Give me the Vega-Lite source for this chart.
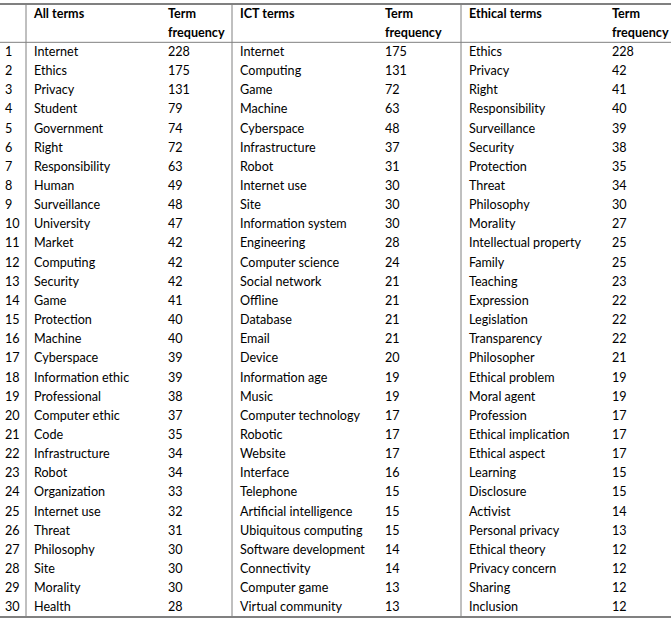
{
  "$schema": "https://vega.github.io/schema/vega-lite/v6.json",
  "width": 671,
  "height": 613,
  "autosize": "none",
  "padding": {"top": 4, "left": 0, "right": 0, "bottom": 4},
  "background": "white",
  "config": {"view": {"stroke": null}, "text": {"font": "Lato", "fontSize": 12.6, "color": "#000000"}},
  "datasets": {
    "cols": [
      {"key": "r", "c": 0}, {"key": "all", "c": 1}, {"key": "allf", "c": 2},
      {"key": "ict", "c": 3}, {"key": "ictf", "c": 4}, {"key": "eth", "c": 5}, {"key": "ethf", "c": 6}
    ],
    "header": [
      {"line": -1, "all": "All terms", "allf": "Term", "ict": "ICT terms", "ictf": "Term", "eth": "Ethical terms", "ethf": "Term"},
      {"line": 0, "allf": "frequency", "ictf": "frequency", "ethf": "frequency"}
    ],
    "body": [
      {"r": 1, "all": "Internet", "allf": 228, "ict": "Internet", "ictf": 175, "eth": "Ethics", "ethf": 228},
      {"r": 2, "all": "Ethics", "allf": 175, "ict": "Computing", "ictf": 131, "eth": "Privacy", "ethf": 42},
      {"r": 3, "all": "Privacy", "allf": 131, "ict": "Game", "ictf": 72, "eth": "Right", "ethf": 41},
      {"r": 4, "all": "Student", "allf": 79, "ict": "Machine", "ictf": 63, "eth": "Responsibility", "ethf": 40},
      {"r": 5, "all": "Government", "allf": 74, "ict": "Cyberspace", "ictf": 48, "eth": "Surveillance", "ethf": 39},
      {"r": 6, "all": "Right", "allf": 72, "ict": "Infrastructure", "ictf": 37, "eth": "Security", "ethf": 38},
      {"r": 7, "all": "Responsibility", "allf": 63, "ict": "Robot", "ictf": 31, "eth": "Protection", "ethf": 35},
      {"r": 8, "all": "Human", "allf": 49, "ict": "Internet use", "ictf": 30, "eth": "Threat", "ethf": 34},
      {"r": 9, "all": "Surveillance", "allf": 48, "ict": "Site", "ictf": 30, "eth": "Philosophy", "ethf": 30},
      {"r": 10, "all": "University", "allf": 47, "ict": "Information system", "ictf": 30, "eth": "Morality", "ethf": 27},
      {"r": 11, "all": "Market", "allf": 42, "ict": "Engineering", "ictf": 28, "eth": "Intellectual property", "ethf": 25},
      {"r": 12, "all": "Computing", "allf": 42, "ict": "Computer science", "ictf": 24, "eth": "Family", "ethf": 25},
      {"r": 13, "all": "Security", "allf": 42, "ict": "Social network", "ictf": 21, "eth": "Teaching", "ethf": 23},
      {"r": 14, "all": "Game", "allf": 41, "ict": "Offline", "ictf": 21, "eth": "Expression", "ethf": 22},
      {"r": 15, "all": "Protection", "allf": 40, "ict": "Database", "ictf": 21, "eth": "Legislation", "ethf": 22},
      {"r": 16, "all": "Machine", "allf": 40, "ict": "Email", "ictf": 21, "eth": "Transparency", "ethf": 22},
      {"r": 17, "all": "Cyberspace", "allf": 39, "ict": "Device", "ictf": 20, "eth": "Philosopher", "ethf": 21},
      {"r": 18, "all": "Information ethic", "allf": 39, "ict": "Information age", "ictf": 19, "eth": "Ethical problem", "ethf": 19},
      {"r": 19, "all": "Professional", "allf": 38, "ict": "Music", "ictf": 19, "eth": "Moral agent", "ethf": 19},
      {"r": 20, "all": "Computer ethic", "allf": 37, "ict": "Computer technology", "ictf": 17, "eth": "Profession", "ethf": 17},
      {"r": 21, "all": "Code", "allf": 35, "ict": "Robotic", "ictf": 17, "eth": "Ethical implication", "ethf": 17},
      {"r": 22, "all": "Infrastructure", "allf": 34, "ict": "Website", "ictf": 17, "eth": "Ethical aspect", "ethf": 17},
      {"r": 23, "all": "Robot", "allf": 34, "ict": "Interface", "ictf": 16, "eth": "Learning", "ethf": 15},
      {"r": 24, "all": "Organization", "allf": 33, "ict": "Telephone", "ictf": 15, "eth": "Disclosure", "ethf": 15},
      {"r": 25, "all": "Internet use", "allf": 32, "ict": "Artificial intelligence", "ictf": 15, "eth": "Activist", "ethf": 14},
      {"r": 26, "all": "Threat", "allf": 31, "ict": "Ubiquitous computing", "ictf": 15, "eth": "Personal privacy", "ethf": 13},
      {"r": 27, "all": "Philosophy", "allf": 30, "ict": "Software development", "ictf": 14, "eth": "Ethical theory", "ethf": 12},
      {"r": 28, "all": "Site", "allf": 30, "ict": "Connectivity", "ictf": 14, "eth": "Privacy concern", "ethf": 12},
      {"r": 29, "all": "Morality", "allf": 30, "ict": "Computer game", "ictf": 13, "eth": "Sharing", "ethf": 12},
      {"r": 30, "all": "Health", "allf": 28, "ict": "Virtual community", "ictf": 13, "eth": "Inclusion", "ethf": 12}
    ]
  },
  "layer": [
    {
      "data": {"values": [{"edge": -1.5}, {"edge": 30.5}]},
      "mark": {"type": "rule", "stroke": "#808080", "strokeWidth": 2},
      "encoding": {
        "y": {"field": "edge", "type": "quantitative", "axis": null,
              "scale": {"domain": [-1.5, 30.5], "reverse": true, "nice": false, "zero": false}}
      }
    },
    {
      "data": {"values": [{"edge": 0.5}]},
      "mark": {"type": "rule", "stroke": "#808080", "strokeWidth": 1},
      "encoding": {
        "y": {"field": "edge", "type": "quantitative", "axis": null}
      }
    },
    {
      "data": {"values": [{"b": 0.5}, {"b": 2.5}, {"b": 4.5}]},
      "mark": {"type": "rule", "stroke": "#808080", "strokeWidth": 1},
      "encoding": {
        "x": {"field": "b", "type": "quantitative", "axis": null,
              "scale": {"domain": [0, 0.5, 1, 2, 2.5, 3, 4, 4.5, 5, 6], "range": [5, 26, 34, 168, 232, 240, 385, 461, 469, 612], "nice": false, "zero": false}}
      }
    },
    {
      "data": {"name": "header"},
      "transform": [
        {"fold": ["all", "allf", "ict", "ictf", "eth", "ethf"], "as": ["key", "value"]},
        {"filter": "isValid(datum.value)"},
        {"lookup": "key", "from": {"data": {"name": "cols"}, "key": "key", "fields": ["c"]}}
      ],
      "mark": {"type": "text", "align": "left", "baseline": "middle", "fontWeight": "bold"},
      "encoding": {
        "x": {"field": "c", "type": "quantitative", "axis": null},
        "y": {"field": "line", "type": "quantitative", "axis": null},
        "text": {"field": "value"}
      }
    },
    {
      "data": {"name": "body"},
      "transform": [
        {"fold": ["r", "all", "allf", "ict", "ictf", "eth", "ethf"], "as": ["key", "value"]},
        {"lookup": "key", "from": {"data": {"name": "cols"}, "key": "key", "fields": ["c"]}}
      ],
      "mark": {"type": "text", "align": "left", "baseline": "middle"},
      "encoding": {
        "x": {"field": "c", "type": "quantitative", "axis": null},
        "y": {"field": "r", "type": "quantitative", "axis": null},
        "text": {"field": "value"}
      }
    }
  ]
}
